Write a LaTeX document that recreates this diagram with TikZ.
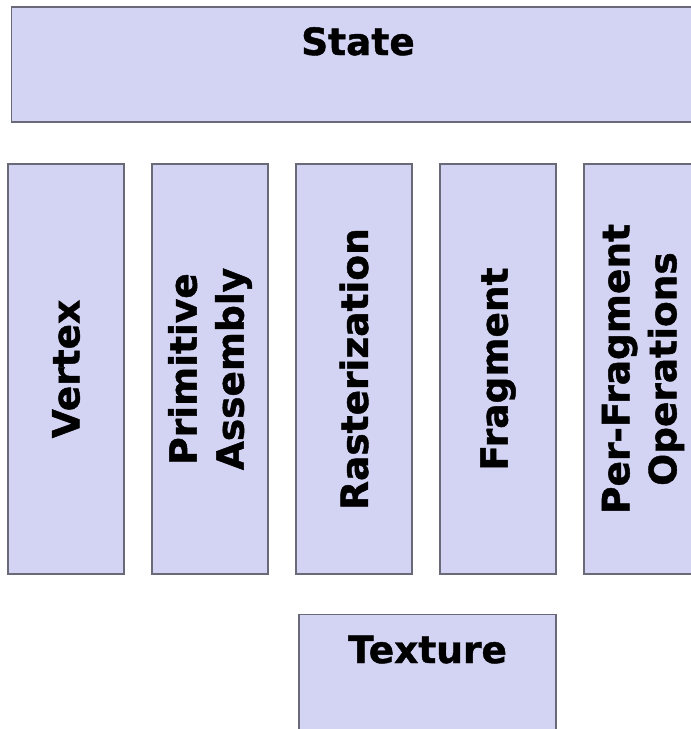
\documentclass[tikz,border=0pt]{standalone}
\usepackage{fontspec}
\setmainfont{DejaVu Sans}[BoldFeatures={FakeBold=1.2}]
\definecolor{boxfill}{RGB}{211,211,243}
\definecolor{boxline}{RGB}{105,105,120}
\begin{document}
\begin{tikzpicture}[x=1pt,y=-1pt,
  stage/.style={draw=boxline, line width=1.4pt, fill=boxfill, inner sep=0pt, outer sep=0pt},
  lbl/.style={font=\fontsize{37.5}{47}\selectfont\bfseries, text=black, align=center, inner sep=0pt},
  vlbl/.style={lbl, rotate=90}]
\useasboundingbox (0,0) rectangle (691,729);
\clip (0,0) rectangle (691,729);
% boxes
\node[stage, minimum width=700pt, minimum height=115pt, anchor=north west] (state) at (11.5,7) {};
\node[stage, minimum width=116pt, minimum height=410pt, anchor=north west] (vertex) at (8,164) {};
\node[stage, minimum width=116pt, minimum height=410pt, anchor=north west] (prim) at (152,164) {};
\node[stage, minimum width=116pt, minimum height=410pt, anchor=north west] (rast) at (296,164) {};
\node[stage, minimum width=116pt, minimum height=410pt, anchor=north west] (frag) at (440,164) {};
\node[stage, minimum width=116pt, minimum height=410pt, anchor=north west] (perfrag) at (584,164) {};
\node[stage, minimum width=257pt, minimum height=140pt, anchor=north west] (texture) at (299,614.5) {};
% labels
\node[lbl, anchor=base] (statet) at (358,55) {State};
\node[lbl, anchor=base] (texturet) at (427.5,663) {Texture};
\node[vlbl] (vertext) at (66,369) {Vertex};
\node[vlbl] (primt) at (210,369) {Primitive\\Assembly};
\node[vlbl] (rastt) at (354,369) {Rasterization};
\node[vlbl] (fragt) at (498,369) {Fragment};
\node[vlbl] (perfragt) at (643,369) {Per-Fragment\\Operations};
\end{tikzpicture}
\end{document}
